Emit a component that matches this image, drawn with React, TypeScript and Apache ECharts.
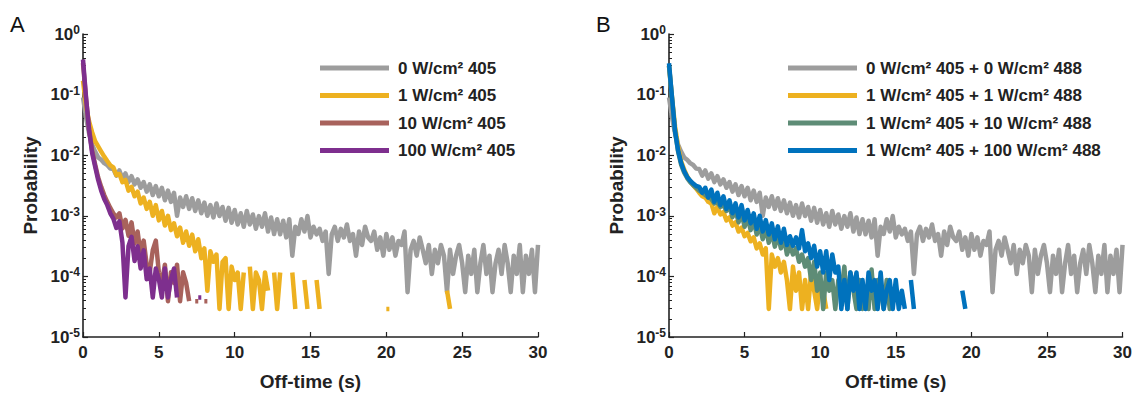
import React, { useEffect, useRef } from 'react';
import * as echarts from 'echarts';

// Off-time histogram bins (s)
const DT = 0.2;

// Panel A / B shared: 0 W/cm2 405 (+ 0 W/cm2 488)
const GRAY = [
  9.0e-2, 4.2e-2, 2.3e-2, 1.5e-2, 1.15e-2, 9.2e-3, 8.4e-3, 7.4e-3, 6.9e-3, 6.0e-3,
  5.9e-3, 4.6e-3, 5.6e-3, 4.1e-3, 5.0e-3, 3.6e-3, 4.5e-3, 3.3e-3, 4.0e-3, 2.9e-3,
  3.6e-3, 2.5e-3, 3.3e-3, 2.2e-3, 3.1e-3, 2.1e-3, 2.9e-3, 1.8e-3, 2.6e-3, 1.7e-3,
  2.4e-3, 1.0e-3, 2.0e-3, 1.4e-3, 2.1e-3, 1.3e-3, 1.95e-3, 1.2e-3, 1.8e-3, 1.1e-3,
  1.65e-3, 1.0e-3, 1.5e-3, 9.4e-4, 1.6e-3, 9.9e-4, 1.4e-3, 8.3e-4, 1.35e-3, 7.7e-4,
  1.25e-3, 7.2e-4, 1.1e-3, 6.6e-4, 1.2e-3, 7.2e-4, 1.05e-3, 6.1e-4, 9.9e-4, 6.6e-4,
  1.1e-3, 5.5e-4, 9.4e-4, 5.0e-4, 8.8e-4, 4.95e-4, 8.3e-4, 4.4e-4, 8.8e-4, 2.2e-4,
  6.6e-4, 5.0e-4, 8.8e-4, 5.5e-4, 9.9e-4, 4.4e-4, 6.6e-4, 4.95e-4, 6.1e-4, 3.85e-4,
  5.5e-4, 1.1e-4, 4.95e-4, 6.6e-4, 3.85e-4, 6.1e-4, 4.4e-4, 7.2e-4, 3.85e-4, 5.0e-4,
  2.2e-4, 5.5e-4, 3.3e-4, 6.6e-4, 4.4e-4, 3.85e-4, 5.5e-4, 2.75e-4, 4.4e-4, 2.2e-4,
  5.0e-4, 2.75e-4, 4.4e-4, 2.2e-4, 3.85e-4, 3.3e-4, 5.5e-4, 5.5e-5, 2.75e-4, 3.85e-4,
  2.2e-4, 4.4e-4, 2.75e-4, 1.65e-4, 3.3e-4, 1.1e-4, 2.75e-4, 1.65e-4, 3.3e-4, 2.2e-4,
  5.5e-5, 2.75e-4, 1.1e-4, 2.2e-4, 3.3e-4, 1.65e-4, 5.5e-5, 2.2e-4, 1.1e-4, 2.75e-4,
  5.5e-5, 1.65e-4, 3.3e-4, 1.1e-4, 2.2e-4, 5.5e-5, 1.65e-4, 2.75e-4, 1.1e-4, 3.3e-4,
  1.65e-4, 5.5e-5, 2.2e-4, 1.1e-4, 3.3e-4, 5.5e-5, 2.2e-4, 1.1e-4, 2.75e-4, 5.5e-5,
  3.3e-4,
];

// Panel A: 1 W/cm2 405
const YELLOW_A = [
  1.7e-1, 6.5e-2, 3.6e-2, 2.4e-2, 1.7e-2, 1.4e-2, 1.15e-2, 9.5e-3, 8.0e-3, 6.8e-3,
  6.3e-3, 4.7e-3, 4.9e-3, 3.6e-3, 3.9e-3, 2.6e-3, 3.0e-3, 2.1e-3, 2.5e-3, 1.6e-3,
  2.0e-3, 1.3e-3, 1.7e-3, 1.0e-3, 1.5e-3, 8.4e-4, 1.2e-3, 6.9e-4, 1.0e-3, 5.8e-4,
  7.5e-4, 4.6e-4, 6.4e-4, 3.6e-4, 5.5e-4, 3.2e-4, 4.9e-4, 2.6e-4, 4.1e-4, 2.0e-4,
  2.9e-4, 5.8e-5, 2.6e-4, 1.74e-4, 2.3e-4, 2.9e-5, 1.74e-4, 2.0e-4, 2.9e-5, 1.45e-4,
  8.7e-5, 1.16e-4, 2.9e-5, 1.16e-4, null, 1.45e-4, 2.9e-5, 1.16e-4, 8.7e-5, 2.9e-5,
  1.16e-4, 5.8e-5, null, 1.16e-4, 2.9e-5, 1.16e-4, null, null, null, 1.16e-4,
  2.9e-5, null, null, 8.7e-5, 2.9e-5, null, null, 8.7e-5, 2.9e-5, null,
  null, null, null, null, null, null, null, null, null, null,
  null, null, null, null, null, null, null, null, null, null,
  2.9e-5, 2.9e-5, null, null, null, null, null, null, null, null,
  null, null, null, null, null, null, null, null, null, null,
  5.8e-5, 2.9e-5,
];

// Panel A: 10 W/cm2 405
const BROWN_A = [
  3.3e-1, 8.5e-2, 2.7e-2, 1.2e-2, 7.0e-3, 4.3e-3, 3.0e-3, 2.2e-3, 1.7e-3, 1.35e-3,
  1.1e-3, 9.4e-4, 1.1e-3, 6.2e-4, 8.6e-4, 4.7e-4, 7.8e-4, 3.5e-4, 5.5e-4, 2.3e-4,
  3.9e-4, 1.56e-4, 1.17e-4, 2.7e-4, 3.9e-4, 1.17e-4, 7.8e-5, 1.56e-4, 3.9e-5, 1.17e-4,
  7.8e-5, 1.56e-4, 3.9e-5, 1.17e-4, 7.8e-5, 3.9e-5, null, 3.9e-5, 3.9e-5, null,
  3.9e-5, 3.9e-5,
];

// Panel A: 100 W/cm2 405
const PURPLE_A = [
  3.8e-1, 9.0e-2, 2.6e-2, 1.1e-2, 6.5e-3, 3.9e-3, 2.6e-3, 1.9e-3, 1.5e-3, 1.1e-3,
  9.0e-4, 6.3e-4, 8.1e-4, 3.6e-4, 4.5e-5, 3.15e-4, 4.5e-4, 1.8e-4, 3.15e-4, 1.35e-4,
  2.7e-4, 9.0e-5, 1.35e-4, 4.5e-5, 1.35e-4, 9.0e-5, 4.5e-5, 1.35e-4, 4.5e-5, 9.0e-5,
  1.35e-4, 4.5e-5, null, null, null, null, null, null, 4.5e-5, 4.5e-5,
];

// Panel B: 1 W/cm2 405 + 1 W/cm2 488
const YELLOW_B = [
  3.0e-1, 9.0e-2, 3.0e-2, 1.4e-2, 8.0e-3, 5.8e-3, 4.5e-3, 3.7e-3, 3.2e-3, 2.8e-3,
  2.4e-3, 2.1e-3, 2.0e-3, 1.7e-3, 1.6e-3, 1.1e-3, 1.4e-3, 1.05e-3, 1.15e-3, 8.4e-4,
  9.4e-4, 6.9e-4, 7.8e-4, 5.5e-4, 6.4e-4, 4.6e-4, 5.2e-4, 3.8e-4, 4.4e-4, 2.9e-4,
  3.5e-4, 2.3e-4, 2.9e-4, 2.9e-5, 2.3e-4, 1.45e-4, 2.0e-4, 1.16e-4, 1.74e-4, 8.7e-5,
  2.9e-5, 1.45e-4, 5.8e-5, 1.16e-4, 2.9e-5, 8.7e-5, 2.9e-5, 1.16e-4, 5.8e-5, 2.9e-5,
  8.7e-5, 5.8e-5, 2.9e-5,
];

// Panel B: 1 W/cm2 405 + 10 W/cm2 488
const GREEN_B = [
  3.0e-1, 8.5e-2, 2.5e-2, 1.15e-2, 7.0e-3, 5.2e-3, 4.2e-3, 3.6e-3, 3.2e-3, 2.9e-3,
  2.6e-3, 2.4e-3, 2.2e-3, 2.0e-3, 1.9e-3, 1.6e-3, 1.7e-3, 1.4e-3, 1.5e-3, 1.2e-3,
  1.4e-3, 9.5e-4, 1.25e-3, 7.8e-4, 1.1e-3, 6.6e-4, 9.6e-4, 5.8e-4, 8.4e-4, 4.9e-4,
  7.0e-4, 4.1e-4, 6.4e-4, 3.6e-4, 5.5e-4, 3.1e-4, 4.9e-4, 2.9e-4, 4.4e-4, 2.3e-4,
  3.2e-4, 2.3e-4, 2.9e-4, 1.74e-4, 2.3e-4, 1.45e-4, 2.0e-4, 8.7e-5, 1.74e-4, 5.8e-5,
  1.16e-4, 2.9e-5, 1.16e-4, 5.8e-5, 8.7e-5, 2.9e-5, 8.7e-5, 5.8e-5, 1.45e-4, 2.9e-5,
  1.16e-4, 5.8e-5, 2.9e-5, 8.7e-5, 2.9e-5, 5.8e-5, 2.9e-5, 1.3e-4, 2.9e-5, 8.7e-5,
  5.8e-5, 2.9e-5, 8.7e-5, 2.9e-5, 5.8e-5,
];

// Panel B: 1 W/cm2 405 + 100 W/cm2 488
const BLUE_B = [
  3.3e-1, 9.0e-2, 2.5e-2, 1.2e-2, 7.5e-3, 5.5e-3, 4.4e-3, 3.8e-3, 3.4e-3, 3.1e-3,
  3.0e-3, 2.4e-3, 2.9e-3, 2.0e-3, 2.7e-3, 1.7e-3, 2.4e-3, 1.5e-3, 2.1e-3, 1.3e-3,
  1.8e-3, 1.1e-3, 1.6e-3, 9.4e-4, 1.5e-3, 8.4e-4, 1.25e-3, 7.5e-4, 1.1e-3, 6.1e-4,
  1.0e-3, 5.5e-4, 8.5e-4, 4.9e-4, 7.5e-4, 4.1e-4, 6.7e-4, 3.6e-4, 6.1e-4, 3.3e-4,
  4.6e-4, 3.2e-4, 4.4e-4, 2.9e-4, 5.8e-4, 2.6e-4, 3.5e-4, 2.0e-4, 3.2e-4, 1.45e-4,
  2.6e-4, 1.16e-4, 2.6e-4, 8.7e-5, 2.3e-4, 1.16e-4, 1.45e-4, 2.9e-5, 8.7e-5, 2.9e-5,
  1.16e-4, 5.8e-5, 1.16e-4, 2.9e-5, 8.7e-5, 2.9e-5, 1.16e-4, 5.8e-5, 8.7e-5, 2.9e-5,
  1.16e-4, 2.9e-5, 5.8e-5, 8.7e-5, 2.9e-5, 8.7e-5, 2.9e-5, 5.8e-5, 2.9e-5, null,
  8.7e-5, 2.9e-5, null, null, null, null, null, null, null, null,
  null, null, null, null, null, null, null, 5.8e-5, 2.9e-5,
];

const NAMES_A = ['0 W/cm² 405', '1 W/cm² 405', '10 W/cm² 405', '100 W/cm² 405'];
const NAMES_B = [
  '0 W/cm² 405 + 0 W/cm² 488',
  '1 W/cm² 405 + 1 W/cm² 488',
  '1 W/cm² 405 + 10 W/cm² 488',
  '1 W/cm² 405 + 100 W/cm² 488',
];
const COLORS_A = ['#9d9d9d', '#edb120', '#a8625c', '#7e2f8e'];
const COLORS_B = ['#9d9d9d', '#edb120', '#5e8c76', '#0072bd'];

const X_TICKS = [0, 5, 10, 15, 20, 25, 30];

const FONT = '"Liberation Sans", Arial, Helvetica, sans-serif';
const INK = '#222222';

function toPairs(vals: (number | null)[]) {
  return vals.map((v, i) => [Math.round(i * DT * 10) / 10, v]);
}

function minorValues() {
  const out: number[] = [];
  for (let e = -5; e < 0; e++) {
    for (let m = 2; m <= 9; m++) out.push(m * Math.pow(10, e));
  }
  return out;
}

export default function App() {
  const ref = useRef<HTMLDivElement>(null);

  useEffect(() => {
    if (!ref.current) return;
    const chart = echarts.init(ref.current, undefined, { renderer: 'svg' });

    const grids = [
      { left: 83, top: 34, width: 455, height: 308 },
      { left: 669, top: 34, width: 454, height: 308 },
    ];

    const xAxis = [0, 1].map((g) => ({
      type: 'value',
      gridIndex: g,
      min: 0,
      max: 30,
      interval: 5,
      name: 'Off-time (s)',
      nameLocation: 'middle',
      nameGap: 35,
      nameTextStyle: { fontFamily: FONT, fontSize: 19, fontWeight: 'bold', color: INK },
      axisLine: { show: true, lineStyle: { color: INK, width: 1.6 } },
      axisTick: { show: true, inside: true, length: 5, lineStyle: { color: INK, width: 1.2 } },
      axisLabel: {
        fontFamily: FONT,
        fontSize: 17,
        fontWeight: 'bold',
        color: INK,
        margin: 7,
        customValues: X_TICKS,
      },
      splitLine: { show: false },
    }));

    const yMain = (g: number) => ({
      type: 'log',
      logBase: 10,
      gridIndex: g,
      min: 1e-5,
      max: 1,
      position: 'left',
      name: 'Probability',
      nameLocation: 'middle',
      nameGap: 43,
      nameTextStyle: { fontFamily: FONT, fontSize: 19, fontWeight: 'bold', color: INK },
      axisLine: { show: true, lineStyle: { color: INK, width: 1.6 } },
      axisTick: { show: true, inside: true, length: 5, lineStyle: { color: INK, width: 1.2 } },
      axisLabel: {
        margin: 3,
        formatter: (v: number) => `{b|10}{e|${Math.round(Math.log10(v))}}`,
        rich: {
          b: { fontFamily: FONT, fontSize: 17, fontWeight: 'bold', color: INK, lineHeight: 20 },
          e: {
            fontFamily: FONT,
            fontSize: 12,
            fontWeight: 'bold',
            color: INK,
            verticalAlign: 'top',
            lineHeight: 12,
          },
        },
      },
      splitLine: { show: false },
    });

    const yMinor = (g: number) => ({
      type: 'log',
      logBase: 10,
      gridIndex: g,
      min: 1e-5,
      max: 1,
      position: 'left',
      axisLine: { show: false },
      axisLabel: { show: false },
      splitLine: { show: false },
      axisTick: {
        show: true,
        inside: true,
        length: 3,
        customValues: minorValues(),
        lineStyle: { color: INK, width: 1 },
      },
    });

    const mkSeries = (name: string, color: string, vals: (number | null)[], xi: number, yi: number) => ({
      type: 'line',
      name,
      xAxisIndex: xi,
      yAxisIndex: yi,
      data: toPairs(vals),
      showSymbol: false,
      symbol: 'none',
      connectNulls: false,
      color,
      lineStyle: { color, width: 4.5, join: 'round', cap: 'butt' },
      emphasis: { disabled: true },
      silent: true,
    });

    const series = [
      mkSeries(NAMES_A[0], COLORS_A[0], GRAY, 0, 0),
      mkSeries(NAMES_A[1], COLORS_A[1], YELLOW_A, 0, 0),
      mkSeries(NAMES_A[2], COLORS_A[2], BROWN_A, 0, 0),
      mkSeries(NAMES_A[3], COLORS_A[3], PURPLE_A, 0, 0),
      mkSeries(NAMES_B[0], COLORS_B[0], GRAY, 1, 2),
      mkSeries(NAMES_B[1], COLORS_B[1], YELLOW_B, 1, 2),
      mkSeries(NAMES_B[2], COLORS_B[2], GREEN_B, 1, 2),
      mkSeries(NAMES_B[3], COLORS_B[3], BLUE_B, 1, 2),
    ];

    const legendBase = {
      orient: 'vertical',
      top: 53,
      icon: 'rect',
      itemWidth: 69,
      itemHeight: 5,
      itemGap: 7.5,
      selectedMode: false,
      textStyle: {
        fontFamily: FONT,
        fontSize: 17,
        fontWeight: 'bold',
        color: INK,
        lineHeight: 20,
        padding: [0, 0, 0, 4],
      },
    };

    chart.setOption({
      animation: false,
      backgroundColor: '#ffffff',
      grid: grids,
      xAxis,
      yAxis: [yMain(0), yMinor(0), yMain(1), yMinor(1)],
      legend: [
        { ...legendBase, left: 315, data: NAMES_A },
        { ...legendBase, left: 783, data: NAMES_B },
      ],
      graphic: [
        { type: 'text', left: 10, top: 13, style: { text: 'A', fontFamily: FONT, fontSize: 22, fill: '#111' } },
        { type: 'text', left: 596, top: 13, style: { text: 'B', fontFamily: FONT, fontSize: 22, fill: '#111' } },
      ],
      series,
    });

    return () => chart.dispose();
  }, []);

  return (
    <div
      ref={ref}
      style={{ position: 'absolute', left: 0, top: 0, width: 1135, height: 396, background: '#fff' }}
    />
  );
}
